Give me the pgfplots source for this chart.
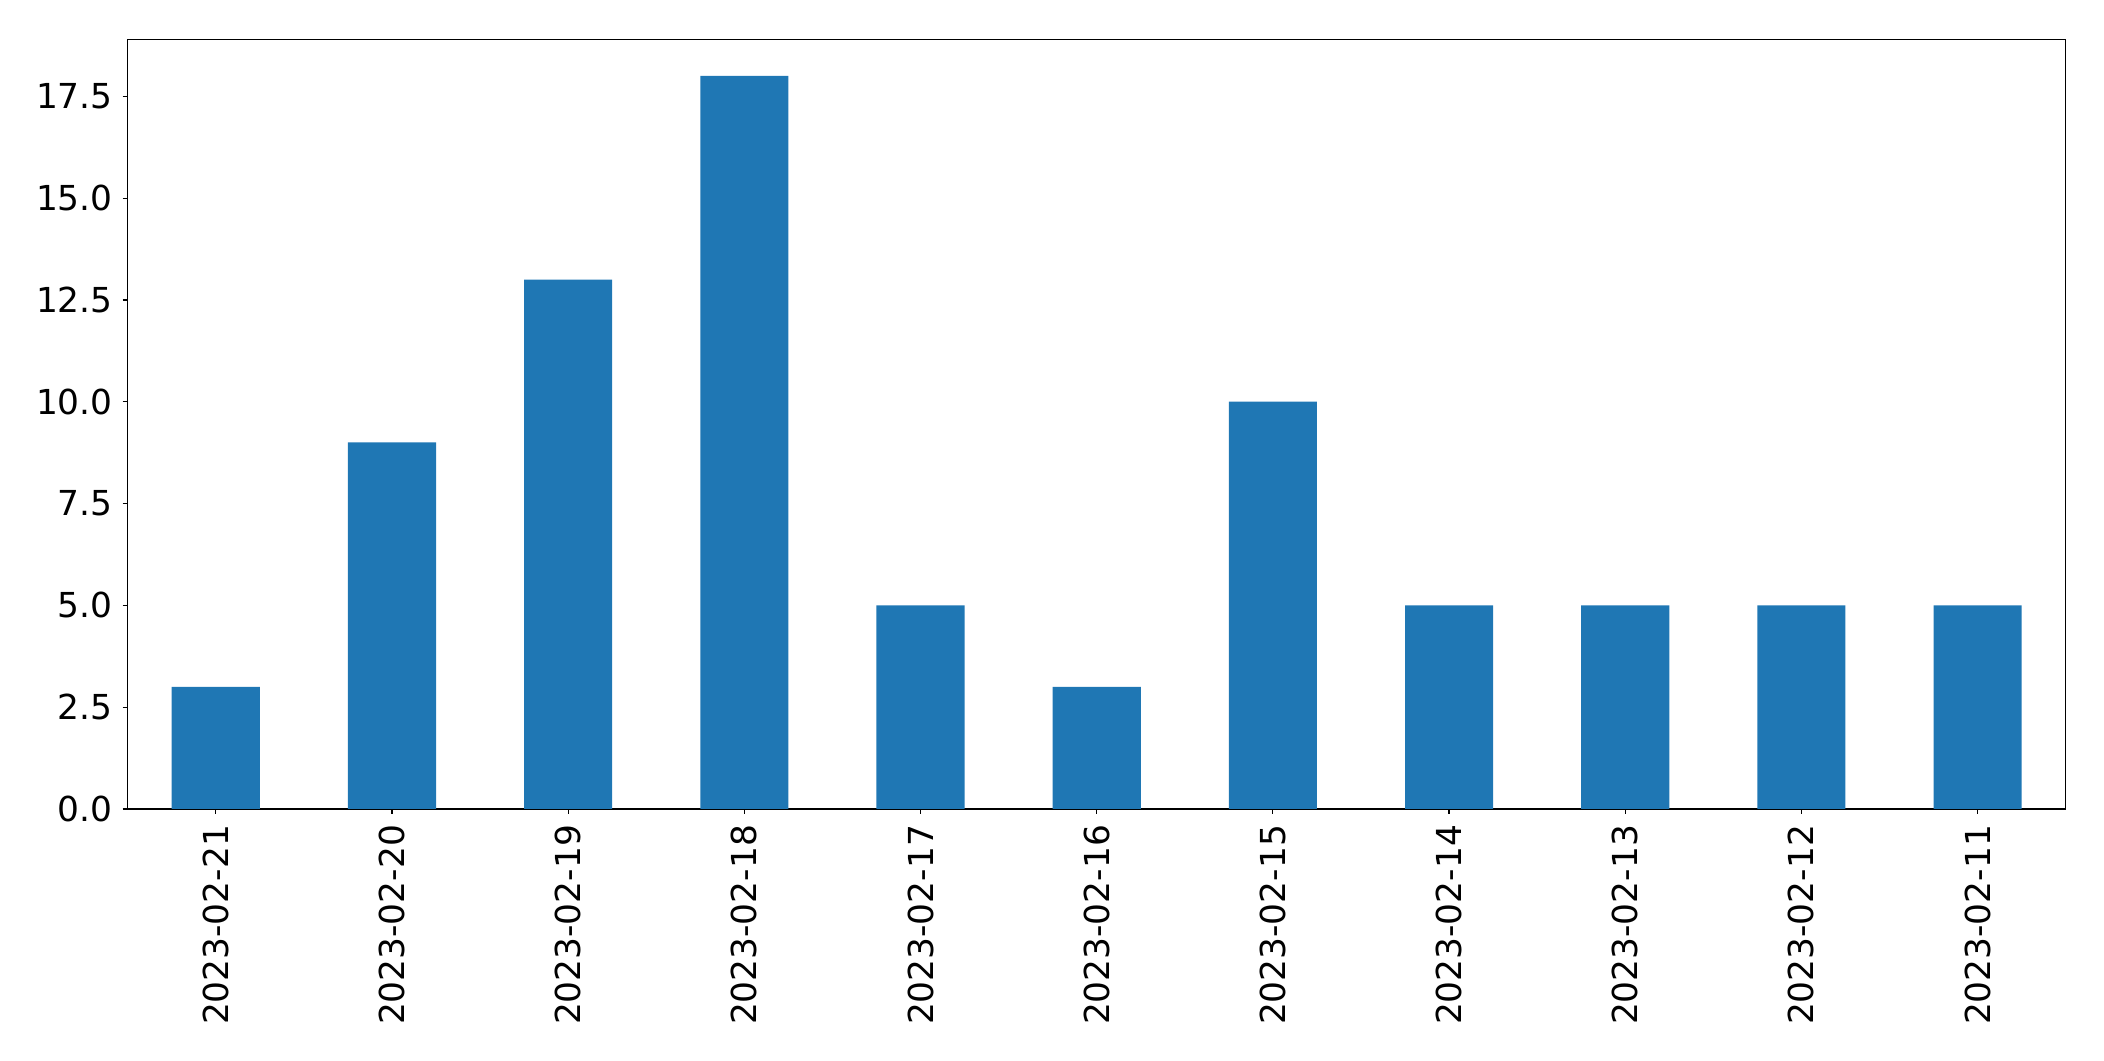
\documentclass[border=0pt]{standalone}
\usepackage{pgfplots}
\pgfplotsset{compat=1.18}
\usepackage{fontspec}
\setmainfont{DejaVu Sans}
\definecolor{tabblue}{HTML}{1F77B4}
\begin{document}
\begin{tikzpicture}
\path[use as bounding box] (0,0) rectangle (1052bp,530.5bp);
\begin{axis}[
  at={(63.85bp,126bp)}, anchor=south west,
  scale only axis, width=969bp, height=384.85bp,
  xmin=-0.5, xmax=10.5, ymin=0, ymax=18.9,
  xtick={0,...,10},
  xticklabels={2023-02-21,2023-02-20,2023-02-19,2023-02-18,2023-02-17,2023-02-16,2023-02-15,2023-02-14,2023-02-13,2023-02-12,2023-02-11},
  x tick label style={rotate=90, anchor=east, font=\fontsize{17.2bp}{21bp}\selectfont},
  y tick label style={font=\fontsize{17.2bp}{21bp}\selectfont},
  ytick={0,2.5,5,7.5,10,12.5,15,17.5},
  yticklabel style={/pgf/number format/.cd, fixed, fixed zerofill, precision=1, assume math mode=true},
  xticklabel style={/pgf/number format/assume math mode=true},
  tick align=outside, tick pos=left,
  major tick length=2.5bp,
  every tick/.style={black, line width=0.6bp},
  axis line style={line width=0.6bp},
  xticklabel shift=2bp, yticklabel shift=1.5bp,
  axis on top=false,
]
\addplot[ybar, bar width=0.5, fill=tabblue, draw=none] coordinates {
(0,3) (1,9) (2,13) (3,18) (4,5) (5,3) (6,10) (7,5) (8,5) (9,5) (10,5)};
\end{axis}
\end{tikzpicture}
\end{document}
